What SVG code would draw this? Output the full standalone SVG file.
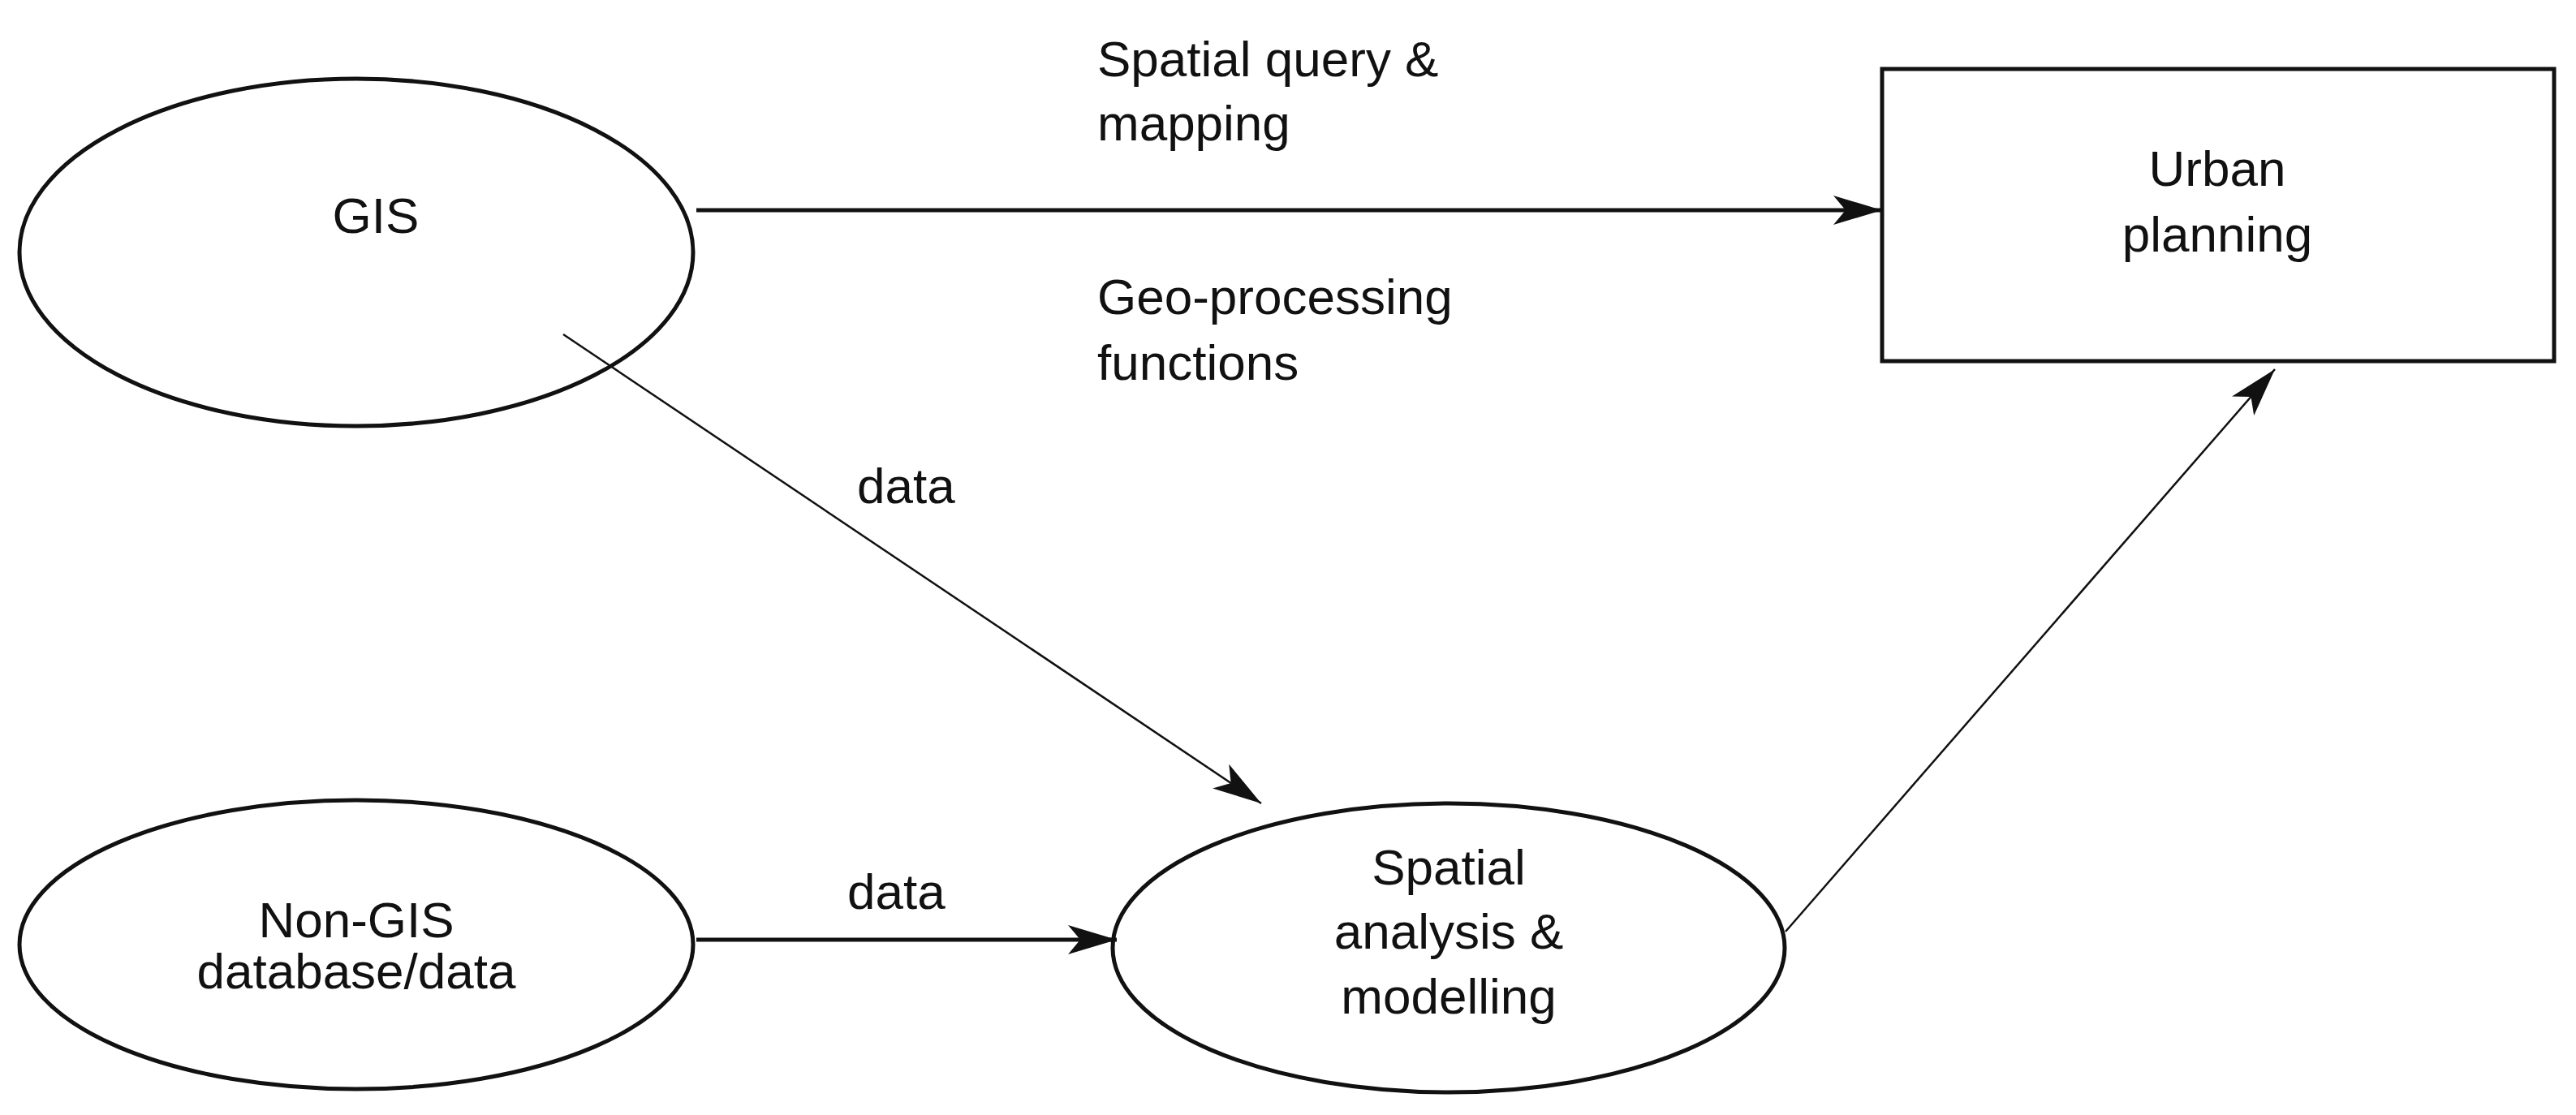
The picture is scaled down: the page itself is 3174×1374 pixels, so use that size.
<svg xmlns="http://www.w3.org/2000/svg" width="3174" height="1374" viewBox="0 0 3174 1374">
<style>
text{font-family:"Liberation Sans",Arial,sans-serif;font-size:62px;fill:#111}
.n{fill:#fff;stroke:#111;stroke-width:5}
.c{stroke:#111;fill:none}
</style>
<defs>
<marker id="b" viewBox="0 0 20 12" refX="20" refY="6" markerWidth="60" markerHeight="36" markerUnits="userSpaceOnUse" orient="auto"><path d="M0,0 L20,6 L0,12 L5,6 Z" fill="#111"/></marker>
</defs>
<rect width="3174" height="1374" fill="#fff"/>
<g id="gis"><ellipse class="n" cx="439" cy="311" rx="415" ry="214"/><text x="463" y="287" text-anchor="middle">GIS</text></g>
<g id="nongis"><ellipse class="n" cx="439" cy="1164" rx="415" ry="178"/><text x="439" y="1155" text-anchor="middle">Non-GIS</text><text x="439" y="1218" text-anchor="middle">database/data</text></g>
<g id="spatial"><ellipse class="n" cx="1785" cy="1168" rx="414" ry="178"/><text x="1785" y="1090" text-anchor="middle">Spatial</text><text x="1785" y="1169" text-anchor="middle">analysis &amp;</text><text x="1785" y="1249" text-anchor="middle">modelling</text></g>
<g id="urban"><rect class="n" x="2319" y="85" width="828" height="360" stroke-width="7"/><text x="2732" y="229" text-anchor="middle">Urban</text><text x="2732" y="310" text-anchor="middle">planning</text></g>
<g id="connectors">
<line class="c" x1="858" y1="259" x2="2319" y2="259" stroke-width="5" marker-end="url(#b)"/>
<line class="c" x1="694" y1="412" x2="1554" y2="990" stroke-width="2.5" marker-end="url(#b)"/>
<line class="c" x1="858" y1="1158" x2="1376" y2="1158" stroke-width="5" marker-end="url(#b)"/>
<line class="c" x1="2200" y1="1148" x2="2803" y2="455" stroke-width="2.5" marker-end="url(#b)"/>
<text x="1352" y="94">Spatial query &amp;</text>
<text x="1352" y="173">mapping</text>
<text x="1352" y="387">Geo-processing</text>
<text x="1352" y="468">functions</text>
<text x="1056" y="620">data</text>
<text x="1044" y="1120">data</text>
</g>
</svg>
